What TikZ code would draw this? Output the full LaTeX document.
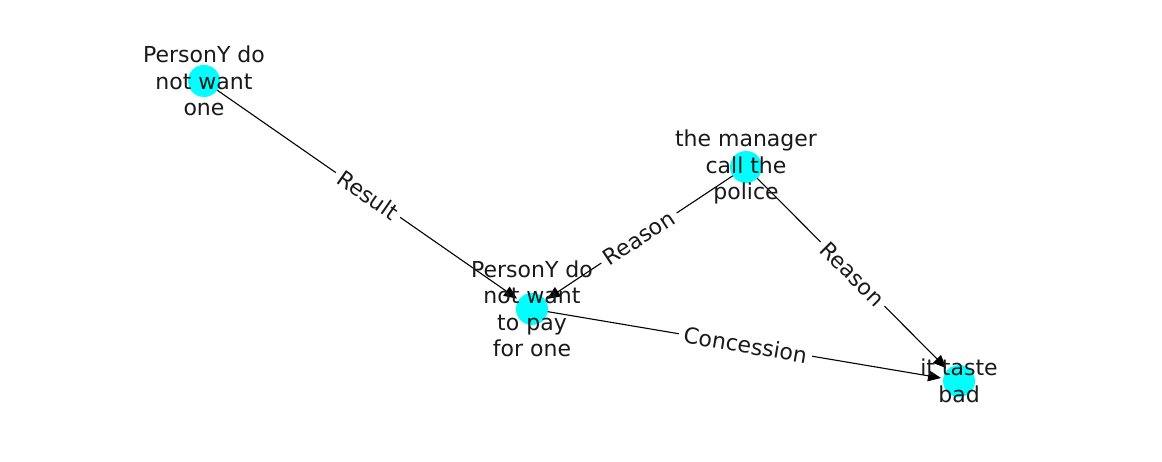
\documentclass[tikz,border=0pt]{standalone}
\usepackage{fontspec}
\setmainfont{DejaVu Sans}
\usetikzlibrary{arrows.meta}
\definecolor{nodecyan}{RGB}{0,255,255}

\begin{document}
\begin{tikzpicture}[x=1pt,y=-1pt,line cap=round,line join=round]
\tikzset{
  vertex/.style={circle,fill=nodecyan,minimum size=32pt,inner sep=0pt},
  vlabel/.style={align=center,text=black!90,font=\fontsize{22}{26.5}\selectfont},
  rel/.style={-{Triangle[length=13pt,width=11pt]},line width=1.1pt,shorten >=2pt},
  tag/.style={midway,sloped,fill=white,inner sep=5pt,text=black!90,font=\fontsize{22}{26.5}\selectfont}
}
\useasboundingbox (0,0) rectangle (1162,462);

% vertices
\node[vertex] (pyone) at (204,81) {};
\node[vertex] (police) at (746,167) {};
\node[vertex] (pypay) at (532,309) {};
\node[vertex] (taste) at (959,381) {};

% edges
\draw[rel] (pyone) -- (pypay) node[tag] {Result};
\draw[rel] (police) -- (pypay) node[tag] {Reason};
\draw[rel] (police) -- (taste) node[tag] {Reason};
\draw[rel] (pypay) -- (taste) node[tag] {Concession};

% vertex texts
\node[vlabel] at (pyone) {PersonY do\\not want\\one};
\node[vlabel] at (police) {the manager\\call the\\police};
\node[vlabel] at (pypay) {PersonY do\\not want\\to pay\\for one};
\node[vlabel] at (taste) {it taste\\bad};

\end{tikzpicture}
\end{document}
